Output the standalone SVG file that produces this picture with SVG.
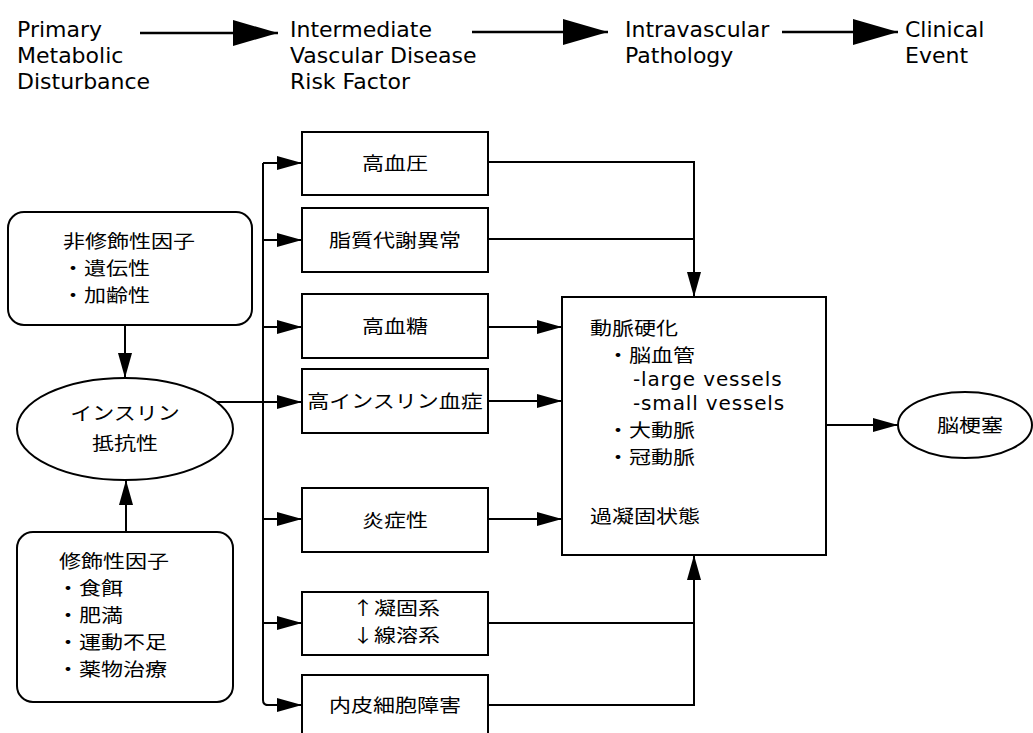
<svg xmlns="http://www.w3.org/2000/svg" width="1033" height="733" viewBox="0 0 1033 733">
<style>
.lat{font-family:"DejaVu Sans","Liberation Sans",sans-serif;font-size:22px;fill:#000}
.lat2{font-family:"DejaVu Sans","Liberation Sans",sans-serif;font-size:20px;letter-spacing:0.85px;fill:#000}
.jp{font-family:"Noto Sans CJK JP","Noto Sans CJK SC",sans-serif;font-size:18.5px;fill:#000}
.mid{text-anchor:middle}
.box{fill:#fff;stroke:#000;stroke-width:2}
.ln{fill:none;stroke:#000;stroke-width:2}
.hl{fill:none;stroke:#000;stroke-width:2.5}
</style>
<defs>
<marker id="ah" markerUnits="userSpaceOnUse" viewBox="0 0 25 14" refX="25" refY="7" markerWidth="25" markerHeight="14" orient="auto">
<path d="M0,0 L25,7 L0,14 z" fill="#000"/>
</marker>
<marker id="big" markerUnits="userSpaceOnUse" viewBox="0 0 45 26" refX="45" refY="13" markerWidth="45" markerHeight="26" orient="auto">
<path d="M0,0 L45,13 L0,26 z" fill="#000"/>
</marker>
</defs>
<rect width="1033" height="733" fill="#fff"/>

<g id="header">
<text class="lat" x="17" y="37">Primary</text>
<text class="lat" x="17" y="63">Metabolic</text>
<text class="lat" x="17" y="89">Disturbance</text>
<text class="lat" x="290" y="37">Intermediate</text>
<text class="lat" x="290" y="63">Vascular Disease</text>
<text class="lat" x="290" y="89">Risk Factor</text>
<text class="lat" x="625" y="37">Intravascular</text>
<text class="lat" x="625" y="63">Pathology</text>
<text class="lat" x="905" y="37">Clinical</text>
<text class="lat" x="905" y="63">Event</text>
</g>

<g id="connectors">
<path class="hl" d="M140 33 H278" marker-end="url(#big)"/>
<path class="hl" d="M472 32 H608" marker-end="url(#big)"/>
<path class="hl" d="M782 32 H898" marker-end="url(#big)"/>

<path class="ln" d="M125 325 V378" marker-end="url(#ah)"/>
<path class="ln" d="M126 532 V480" marker-end="url(#ah)"/>
<path class="ln" d="M217 402 H302" marker-end="url(#ah)"/>

<path class="ln" d="M263 163 V700 Q263 705 268 705"/>
<path class="ln" d="M263 163 H302" marker-end="url(#ah)"/>
<path class="ln" d="M263 240 H302" marker-end="url(#ah)"/>
<path class="ln" d="M263 327 H302" marker-end="url(#ah)"/>
<path class="ln" d="M263 519 H302" marker-end="url(#ah)"/>
<path class="ln" d="M263 623 H302" marker-end="url(#ah)"/>
<path class="ln" d="M266 705 H302" marker-end="url(#ah)"/>

<path class="ln" d="M488 162 H694 V297" marker-end="url(#ah)"/>
<path class="ln" d="M488 239 H694"/>
<path class="ln" d="M488 327 H562" marker-end="url(#ah)"/>
<path class="ln" d="M488 401 H562" marker-end="url(#ah)"/>
<path class="ln" d="M488 519 H562" marker-end="url(#ah)"/>
<path class="ln" d="M488 705 H694 V555" marker-end="url(#ah)"/>
<path class="ln" d="M488 623 H694"/>
<path class="ln" d="M826 425 H898" marker-end="url(#ah)"/>
</g>

<g id="non-modifiable">
<rect class="box" x="8" y="212" width="244" height="113" rx="16"/>
<text class="jp" transform="translate(63 248) scale(1.19 1)">非修飾性因子</text>
<text class="jp" transform="translate(62 275) scale(1.19 1)">・遺伝性</text>
<text class="jp" transform="translate(62 302) scale(1.19 1)">・加齢性</text>
</g>

<g id="insulin-resistance">
<ellipse class="box" cx="125" cy="429" rx="108" ry="51"/>
<text class="jp mid" transform="translate(125 420) scale(1.19 1)">インスリン</text>
<text class="jp mid" transform="translate(125 450) scale(1.19 1)">抵抗性</text>
</g>

<g id="modifiable">
<rect class="box" x="17" y="532" width="216" height="170" rx="16"/>
<text class="jp" transform="translate(59 568) scale(1.19 1)">修飾性因子</text>
<text class="jp" transform="translate(57 595) scale(1.19 1)">・食餌</text>
<text class="jp" transform="translate(57 622) scale(1.19 1)">・肥満</text>
<text class="jp" transform="translate(57 649) scale(1.19 1)">・運動不足</text>
<text class="jp" transform="translate(57 676) scale(1.19 1)">・薬物治療</text>
</g>

<g id="hypertension">
<rect class="box" x="302" y="132" width="186" height="63"/>
<text class="jp mid" transform="translate(395 170) scale(1.19 1)">高血圧</text>
</g>
<g id="dyslipidemia">
<rect class="box" x="302" y="208" width="186" height="64"/>
<text class="jp mid" transform="translate(395 247) scale(1.19 1)">脂質代謝異常</text>
</g>
<g id="hyperglycemia">
<rect class="box" x="302" y="294" width="186" height="64"/>
<text class="jp mid" transform="translate(395 333) scale(1.19 1)">高血糖</text>
</g>
<g id="hyperinsulinemia">
<rect class="box" x="302" y="369" width="186" height="64"/>
<text class="jp mid" transform="translate(395 408) scale(1.19 1)">高インスリン血症</text>
</g>
<g id="inflammation">
<rect class="box" x="302" y="488" width="186" height="64"/>
<text class="jp mid" transform="translate(395 527) scale(1.19 1)">炎症性</text>
</g>
<g id="coagulation">
<rect class="box" x="302" y="592" width="186" height="63"/>
<text class="jp" transform="translate(352 615) scale(1.19 1)">↑凝固系</text>
<text class="jp" transform="translate(352 642) scale(1.19 1)">↓線溶系</text>
</g>
<g id="endothelial">
<rect class="box" x="302" y="675" width="186" height="66"/>
<text class="jp mid" transform="translate(395 712) scale(1.19 1)">内皮細胞障害</text>
</g>

<g id="atherosclerosis">
<rect class="box" x="562" y="297" width="264" height="258"/>
<text class="jp" transform="translate(590 335) scale(1.19 1)">動脈硬化</text>
<text class="jp" transform="translate(607 362) scale(1.19 1)">・脳血管</text>
<text class="lat2" x="633" y="386">-large vessels</text>
<text class="lat2" x="633" y="410">-small vessels</text>
<text class="jp" transform="translate(607 437) scale(1.19 1)">・大動脈</text>
<text class="jp" transform="translate(607 464) scale(1.19 1)">・冠動脈</text>
<text class="jp" transform="translate(590 523) scale(1.19 1)">過凝固状態</text>
</g>

<g id="cerebral-infarction">
<ellipse class="box" cx="965" cy="425" rx="67" ry="33"/>
<text class="jp mid" transform="translate(970 432) scale(1.19 1)">脳梗塞</text>
</g>
</svg>
